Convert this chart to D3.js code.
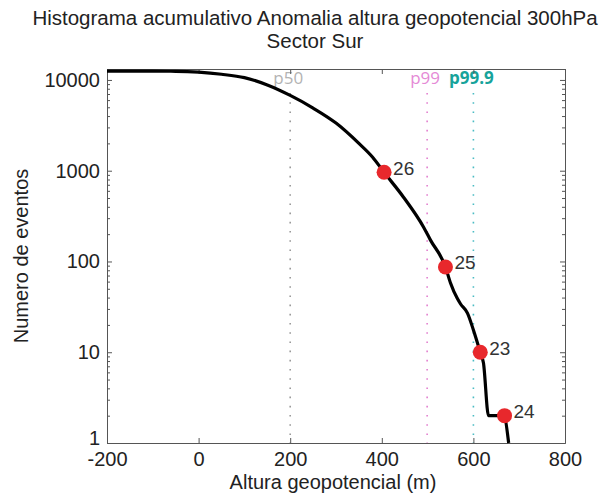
<!DOCTYPE html>
<html>
<head>
<meta charset="utf-8">
<script src="https://cdn.jsdelivr.net/npm/d3@7"></script>
<style>
  html, body { margin: 0; padding: 0; background: #fff; }
  svg { display: block; }
  text { font-family: "Liberation Sans", Arial, Helvetica, sans-serif; fill: #222; }
</style>
</head>
<body>
<svg id="chart" width="611" height="499"></svg>
<script>
// Cumulative histogram: number of events with anomaly >= x
const anomaliaX = [-200, -100, -50, 0, 50, 100, 150, 200, 250, 300, 350, 380, 405,
                   447, 491, 506, 539, 550, 565, 572, 587, 600, 615, 622, 633, 666, 677];
const numEventos = [12500, 12500, 12450, 12180, 11550, 10600, 8800, 6750, 4900, 3350, 2000, 1410, 960,
                    514, 240, 173, 87, 58, 39, 34, 27, 17.6, 10, 7.6, 2, 2, 1];

// Highlighted events (id, anomaly, cumulative count)
const eventoId = [26, 25, 23, 24];
const eventoX = [405, 539, 615, 668];
const eventoN = [960, 87, 10, 2];

// Percentile reference lines
const percentilNombre = ["p50", "p99", "p99.9"];
const percentilX = [200, 499, 600];
const percentilColorLinea = ["#9a9a9a", "#e27fcf", "#4bbcc4"];
const percentilColorTexto = ["#b3b3b3", "#e58ad6", "#17a39b"];
const percentilPeso = ["normal", "normal", "bold"];

// Axis ticks
const xTicks = [-200, 0, 200, 400, 600, 800];
const yTicks = [1, 10, 100, 1000, 10000];
const yMinorTicks = [];
[1, 10, 100, 1000].forEach(d => { for (let k = 2; k <= 9; k++) yMinorTicks.push(d * k); });

const svg = d3.select("#chart");
const plotLeft = 107, plotRight = 565, plotTop = 69, plotBottom = 443;

const x = d3.scaleLinear().domain([-200, 800]).range([plotLeft, plotRight]);
const y = d3.scaleLog().domain([1, 13200]).range([plotBottom, plotTop]);

const axisColor = "#555";

// Title
svg.append("text").attr("x", 315).attr("y", 25).attr("text-anchor", "middle")
  .style("font-size", "20.5px").text("Histograma acumulativo Anomalia altura geopotencial 300hPa");
svg.append("text").attr("x", 315).attr("y", 48).attr("text-anchor", "middle")
  .style("font-size", "20.5px").text("Sector Sur");

// Percentile dotted lines and their labels
percentilX.forEach((px, i) => {
  svg.append("line")
    .attr("x1", x(px)).attr("x2", x(px))
    .attr("y1", plotTop + 24).attr("y2", plotBottom)
    .attr("stroke", percentilColorLinea[i]).attr("stroke-width", 1.6)
    .attr("stroke-dasharray", "1.6,7.6");
  svg.append("text")
    .attr("x", x(px) - 2).attr("y", plotTop + 15)
    .attr("text-anchor", "middle")
    .style("font-family", "'Open Sans', sans-serif")
    .style("font-size", "17px")
    .style("font-weight", percentilPeso[i])
    .style("fill", percentilColorTexto[i])
    .text(percentilNombre[i]);
});

// Axes (ticks point inward, box drawn on all four sides)
function styleAxis(g) {
  g.selectAll(".domain").attr("stroke", axisColor);
  g.selectAll(".tick line").attr("stroke", axisColor);
  g.selectAll(".tick text").style("font-size", "20px").style("fill", "#222")
    .style("font-family", "'Liberation Sans', Arial, sans-serif");
}

svg.append("g").attr("transform", `translate(0,${plotBottom})`)
  .call(d3.axisBottom(x).tickValues(xTicks).tickSize(-5).tickSizeOuter(0).tickPadding(9)
    .tickFormat(d => String(d)))
  .call(styleAxis);
svg.append("g").attr("transform", `translate(0,${plotTop})`)
  .call(d3.axisTop(x).tickValues(xTicks).tickSize(-5).tickSizeOuter(0).tickFormat(""))
  .call(styleAxis);

const yAxisLeft = svg.append("g").attr("transform", `translate(${plotLeft},0)`)
  .call(d3.axisLeft(y).tickValues(yTicks).tickSize(-5).tickSizeOuter(0).tickPadding(7)
    .tickFormat(d => String(d)))
  .call(styleAxis);
// the lowest label sits a little higher so it clears the x labels
yAxisLeft.selectAll(".tick text").filter(d => d === 1).attr("dy", "0.05em");

svg.append("g").attr("transform", `translate(${plotLeft},0)`)
  .call(d3.axisLeft(y).tickValues(yMinorTicks).tickSize(-3).tickSizeOuter(0).tickFormat(""))
  .call(styleAxis);
svg.append("g").attr("transform", `translate(${plotRight},0)`)
  .call(d3.axisRight(y).tickValues(yTicks).tickSize(-5).tickSizeOuter(0).tickFormat(""))
  .call(styleAxis);
svg.append("g").attr("transform", `translate(${plotRight},0)`)
  .call(d3.axisRight(y).tickValues(yMinorTicks).tickSize(-3).tickSizeOuter(0).tickFormat(""))
  .call(styleAxis);

// Cumulative curve
const curva = anomaliaX.map((v, i) => [v, numEventos[i]]);
svg.append("path")
  .datum(curva)
  .attr("fill", "none")
  .attr("stroke", "#000")
  .attr("stroke-width", 3.2)
  .attr("stroke-linejoin", "round")
  .attr("d", d3.line().curve(d3.curveMonotoneX).x(d => x(d[0])).y(d => y(d[1])));

// Event markers with their ids
eventoId.forEach((id, i) => {
  svg.append("circle")
    .attr("cx", x(eventoX[i])).attr("cy", y(eventoN[i])).attr("r", 7.5)
    .attr("fill", "#e8282c");
  svg.append("text")
    .attr("x", x(eventoX[i]) + 9).attr("y", y(eventoN[i]) + 2.5)
    .style("font-size", "19px").style("fill", "#333")
    .text(id);
});

// Axis titles
svg.append("text").attr("x", 333).attr("y", 489).attr("text-anchor", "middle")
  .style("font-size", "20px").text("Altura geopotencial (m)");
svg.append("text").attr("transform", "translate(28,256) rotate(-90)").attr("text-anchor", "middle")
  .style("font-size", "20px").text("Numero de eventos");
</script>
</body>
</html>
